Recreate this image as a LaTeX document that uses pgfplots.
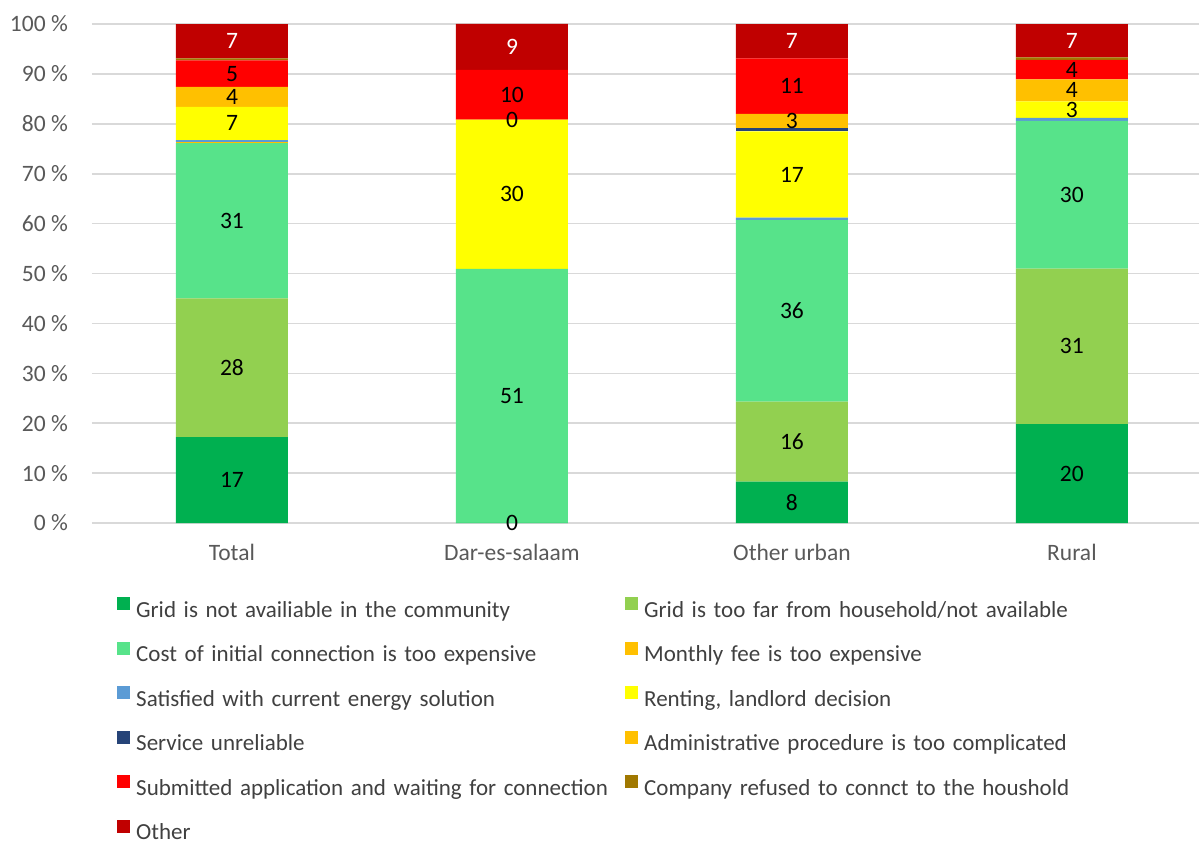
\documentclass[border=0pt]{standalone}
\usepackage{fontspec}
\setmainfont{Carlito}
\usepackage{pgfplots}
\pgfplotsset{compat=1.18}
\usepackage{pgfplotstable}
\usetikzlibrary{calc}

\definecolor{cGna}{HTML}{00B050}
\definecolor{cGtf}{HTML}{92D050}
\definecolor{cCost}{HTML}{57E38A}
\definecolor{cFee}{HTML}{FFC000}
\definecolor{cSat}{HTML}{5B9BD5}
\definecolor{cRent}{HTML}{FFFF00}
\definecolor{cUnrel}{HTML}{264478}
\definecolor{cAdm}{HTML}{FFC000}
\definecolor{cSub}{HTML}{FF0000}
\definecolor{cRef}{HTML}{A07800}
\definecolor{cOth}{HTML}{C00000}
\definecolor{txtc}{HTML}{404040}
\definecolor{tickc}{HTML}{595959}
\definecolor{grd}{HTML}{D9D9D9}

\newcommand\cf{\fontsize{23.5}{28}\selectfont}
\newcommand\lf{\fontsize{23}{27}\selectfont}

% shares in percent; x: 0 Total, 1 Dar-es-salaam, 2 Other urban, 3 Rural
% (0.01 stands for a labelled 0)
\pgfplotstableread{
x  gna   gtf   cost   fee  sat  rent   unrel  adm   sub   ref  oth
0  17.2  27.8  31.15  0.2  0.4  6.65   0      4.0   5.3   0.4  6.9
1  0.01  0     50.9   0    0    29.9   0      0.01  10.0  0    9.2
2  8.3   16.0  36.4   0    0.5  17.3   0.7    2.8   11.1  0    6.9
3  19.8  31.2  29.6   0    0.6  3.3    0      4.4   3.9   0.5  6.7
}\data

\pgfplotsset{labmin/.initial=0.95}

\begin{document}
\begin{tikzpicture}
\begin{axis}[
    name=ax,
    scale only axis,
    width=1107pt, height=499pt,
    ybar stacked,
    bar width=112pt,
    xmin=-0.5, xmax=3.454,
    ymin=0, ymax=100,
    enlargelimits=false,
    clip=false,
    xtick={0,1,2,3},
    xticklabels={Total,Dar-es-salaam,Other urban,Rural},
    ytick={0,10,...,100},
    yticklabel={\pgfmathprintnumber{\tick} \%},
    /pgf/number format/assume math mode=true,
    major tick length=0pt,
    tick style={draw=none},
    axis line style={draw=none},
    ymajorgrids=true,
    grid style={grd, line width=1.6pt},
    yticklabel style={font=\cf, text=tickc, inner sep=0pt, anchor=east, xshift=-24pt},
    xticklabel style={font=\cf, text=tickc, inner sep=0pt, anchor=north, text height=15pt, yshift=-22pt},
    col/.style={draw=none, fill=#1},
    raw/.style={visualization depends on={\thisrow{#1} \as \rawy}},
    nodes near coords={\pgfmathparse{\rawy>=\pgfkeysvalueof{/pgfplots/labmin} ? 1 : 0}\ifdim\pgfmathresult pt>0.5pt\pgfmathprintnumber[fixed,precision=0]{\rawy}\fi},
    every node near coord/.append style={font=\cf, text=black, anchor=center},
    legend columns=2,
    legend style={
        at={(0,0)}, anchor=north west, xshift=25pt, yshift=-74pt,
        draw=none, inner sep=0pt, fill=none,
        font=\lf, text=txtc,
        nodes={inner sep=0pt, text width=484pt, align=left, text height=17pt, text depth=5pt},
        row sep=19.5pt,
        /tikz/every odd column/.append style={column sep=6pt},
        /tikz/every even column/.append style={column sep=5pt},
    },
    legend image code/.code={\fill[#1] (0pt,1pt) rectangle (13pt,14pt);},
]
\addplot[col=cGna, raw=gna, labmin=0] table[x=x, y=gna]{\data};
\addlegendentry{Grid is not availiable in the community}
\addplot[col=cGtf, raw=gtf] table[x=x, y=gtf]{\data};
\addlegendentry{Grid is too far from household/not available}
\addplot[col=cCost, raw=cost] table[x=x, y=cost]{\data};
\addlegendentry{Cost of initial connection is too expensive}
\addplot[col=cFee, raw=fee] table[x=x, y=fee]{\data};
\addlegendentry{Monthly fee is too expensive}
\addplot[col=cSat, raw=sat] table[x=x, y=sat]{\data};
\addlegendentry{Satisfied with current energy solution}
\addplot[col=cRent, raw=rent] table[x=x, y=rent]{\data};
\addlegendentry{Renting, landlord decision}
\addplot[col=cUnrel, raw=unrel] table[x=x, y=unrel]{\data};
\addlegendentry{Service unreliable}
\addplot[col=cAdm, raw=adm, labmin=0] table[x=x, y=adm]{\data};
\addlegendentry{Administrative procedure is too complicated}
\addplot[col=cSub, raw=sub] table[x=x, y=sub]{\data};
\addlegendentry{Submitted application and waiting for connection}
\addplot[col=cRef, raw=ref] table[x=x, y=ref]{\data};
\addlegendentry{Company refused to connct to the houshold}
\addplot[col=cOth, raw=oth, every node near coord/.append style={text=white}] table[x=x, y=oth]{\data};
\addlegendentry{Other}
\end{axis}
\pgfresetboundingbox
\path[use as bounding box] ($(ax.south west)+(-92pt,-318pt)$) rectangle ($(ax.north east)+(0pt,24pt)$);
\end{tikzpicture}
\end{document}
